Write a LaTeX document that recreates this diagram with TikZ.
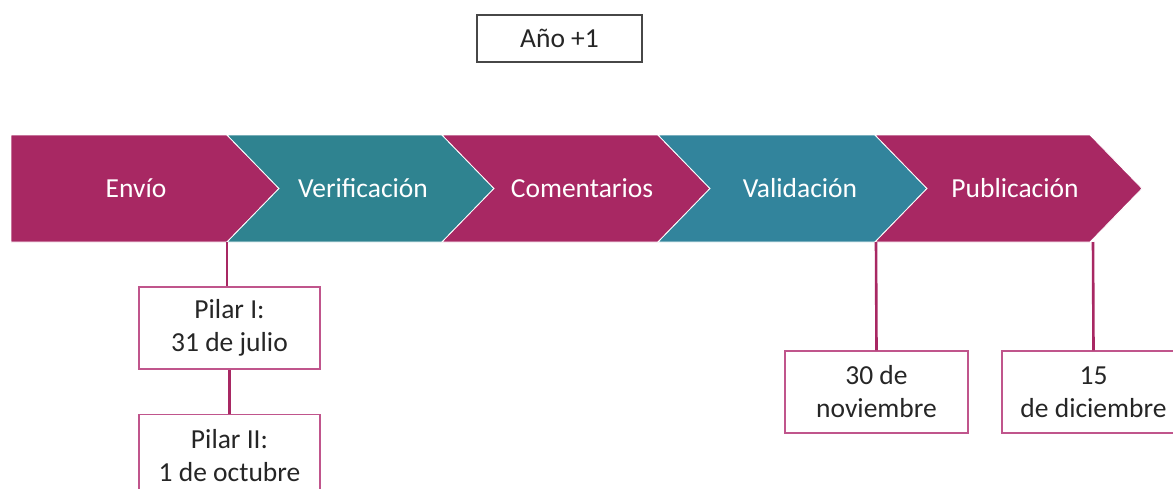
\documentclass[tikz,border=0pt]{standalone}
\usepackage{fontspec}
\setmainfont{Carlito}
\usetikzlibrary{positioning}

\definecolor{plum}{HTML}{A82863}
\definecolor{tealA}{HTML}{2F8390}
\definecolor{tealB}{HTML}{32849C}
\definecolor{boxpink}{HTML}{C0558C}
\definecolor{txtgray}{HTML}{262626}

\begin{document}
\begin{tikzpicture}[x=1pt, y=-1pt]
\tikzset{ >=latex, inner sep=0pt,
  fase/.style={text=white, font=\fontsize{27.5}{33}\selectfont},
  fecha/.style={draw=boxpink, line width=1.3pt, minimum width=181pt, minimum height=82pt,
                align=center, text=txtgray, font=\fontsize{27.5}{33}\selectfont},
  anual/.style={draw=txtgray!85, line width=1.2pt, minimum width=165pt, minimum height=47pt,
                text=txtgray, font=\fontsize{27.5}{33}\selectfont},
  enlace/.style={draw=plum, line width=2.6pt},
}

\useasboundingbox (0,0) rectangle (1173,488);
\clip (0,0) rectangle (1173,488);

%\draw [lightgray, dashed](0,0) grid [step=50] (1173,488);

% chevrons
\filldraw [fill=plum, draw=white, line width=0.8pt]
  (11,135) -- (227,135) -- (279,188.5) -- (227,242) -- (11,242) -- cycle;
\foreach \a/\b/\c in {227/442/tealA, 442/658/plum, 658/875/tealB, 875/1090/plum}
  \filldraw [fill=\c, draw=white, line width=0.8pt]
    (\a,135) -- (\b,135) -- (\b+52,188.5) -- (\b,242) -- (\a,242) -- (\a+52,188.5) -- cycle;

\node [fase] (envio) at (136,188.5)  {Envío};
\node [fase] (verif) at (363,188.5)  {Verificación};
\node [fase] (coment) at (582,188.5) {Comentarios};
\node [fase] (valid) at (800,188.5)  {Validación};
\node [fase] (publ) at (1015,188.5)  {Publicación};

\coordinate (b12) at (227,242);
\coordinate (b45) at (876,242);
\coordinate (b5)  at (1093,242);

% year
\node [anual] (anio) at (559.5,38.5) {Año +1};

% dates
\node [fecha] (pilarI) at (229.5,328) {Pilar I:\\31 de julio};
\node [fecha, below=44pt of pilarI] (pilarII) {Pilar II:\\1 de octubre};
\node [fecha, minimum width=183pt] (nov) at (876.5,392) {30 de\\noviembre};
\node [fecha, minimum width=183pt] (dic) at (1093.5,392) {15\\de diciembre};

\draw [enlace] (b12) -- (b12 |- pilarI.north);
\draw [enlace] (pilarI.south) -- (pilarII.north);
\draw [enlace] (b45) -- (nov.north);
\draw [enlace] (b5)  -- (dic.north);

\end{tikzpicture}
\end{document}
